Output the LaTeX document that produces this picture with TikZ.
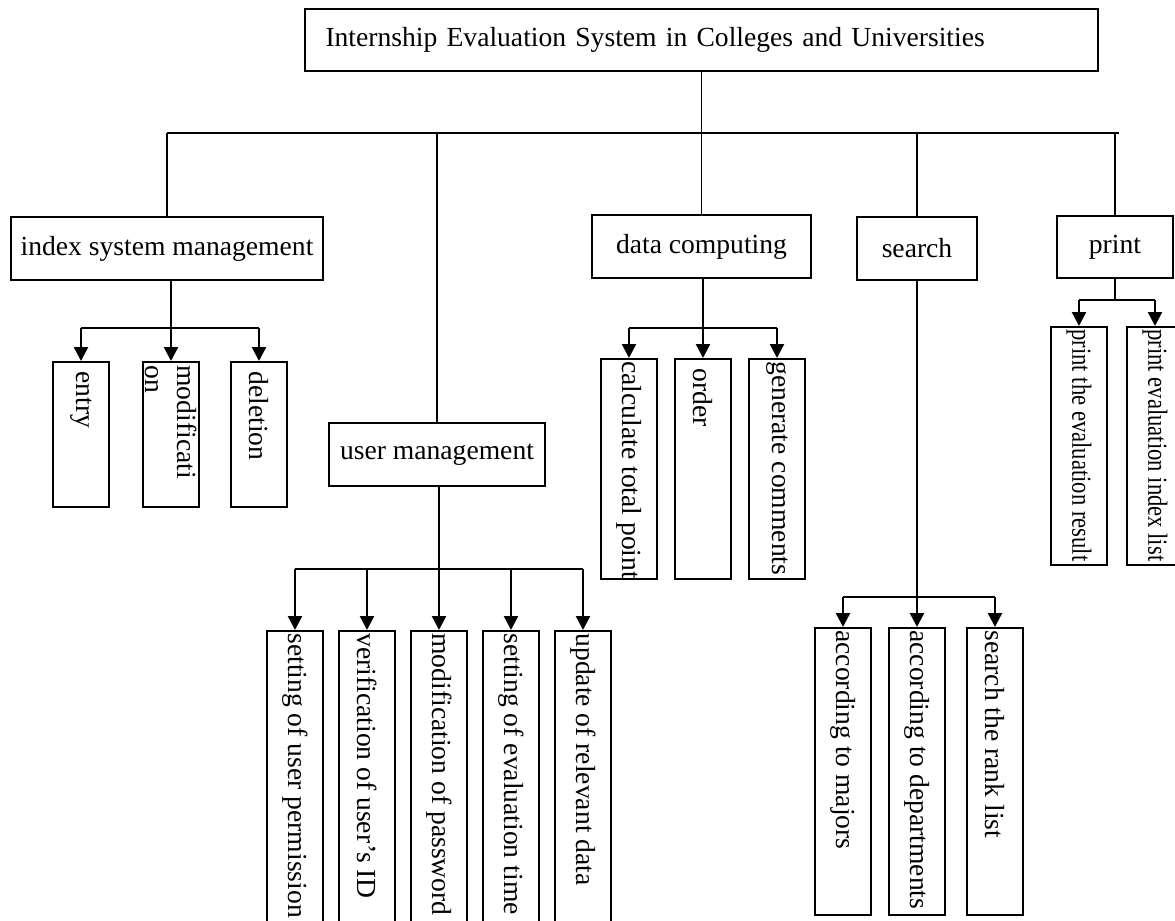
\documentclass[tikz,border=0pt]{standalone}
\usepackage{fontspec}
\setmainfont{Liberation Serif}
\usetikzlibrary{arrows.meta}

\begin{document}
\begin{tikzpicture}[x=0.5pt, y=-0.5pt]
  \tikzset{
    box/.style={
      rectangle,
      draw=black,
      line width=1pt,
      inner sep=2pt,
      font=\fontsize{13.8}{16}\selectfont
    },
    leaf/.style={
      rectangle,
      draw=black,
      line width=1pt,
      minimum width=28pt
    },
    leaftext/.style={
      rotate=-90,
      anchor=west,
      inner xsep=5pt,
      inner ysep=0pt,
      align=left,
      font=\fontsize{13.8}{16}\selectfont
    },
    tight/.style={inner xsep=1.5pt},
    busline/.style={line width=0.7pt},
    arrowline/.style={line width=1.2pt},
    down/.style={line width=1.2pt, -{Triangle[width=7pt, length=7pt]}}
  }

  \useasboundingbox (0,0) rectangle (1175,921);
  \clip (0,0) rectangle (1175,921);

  % top
  \node[box, minimum width=396.5pt, minimum height=31pt, text width=376pt, align=left]
    (root) at (701.5,40) {Internship Evaluation System in Colleges and Universities};

  % second level
  \node[box, minimum width=156pt, minimum height=31.5pt] (idx) at (167,248.5) {index system management};
  \node[box, minimum width=108pt, minimum height=31.5pt] (user) at (437,454.5) {user management};
  \node[box, minimum width=109.5pt, minimum height=31.5pt] (data) at (701.5,246.5) {data computing};
  \node[box, minimum width=60pt, minimum height=31.5pt] (search) at (917,248.5) {search};
  \node[box, minimum width=58pt, minimum height=31pt] (print) at (1115,247) {print};

  \coordinate (busL) at (167,133);
  \coordinate (busR) at (1119,133);
  \draw[busline] (busL) -- (busR);
  \draw[busline] (root.south) -- (root.south |- busL);
  \draw[busline] (idx.north) -- (idx.north |- busL);
  \draw[busline] (user.north) -- (user.north |- busL);
  \draw[busline] (data.north) -- (data.north |- busL);
  \draw[busline] (search.north) -- (search.north |- busL);
  \draw[busline] (print.north) -- (print.north |- busL);

  % index system management
  \node[leaf, minimum height=72.5pt] (entry) at (81,434.5) {};
  \node[leaf, minimum height=72.5pt] (modify) at (171,434.5) {};
  \node[leaf, minimum height=72.5pt] (delete) at (259,434.5) {};
  \node[leaftext] (entry-t) at (entry.north) {entry};
  \node[leaftext, xshift=-3pt] (modify-t) at (modify.north) {modificati\\on};
  \node[leaftext] (delete-t) at (delete.north) {deletion};
  \coordinate (idxfork) at (171,328);
  \draw[arrowline] (entry.north |- idxfork) -- (delete.north |- idxfork);
  \draw[down] (modify.north |- idx.south) -- (modify.north);
  \draw[down] (entry.north |- idxfork) -- (entry.north);
  \draw[down] (delete.north |- idxfork) -- (delete.north);

  % data computing
  \node[leaf, minimum height=110pt] (total) at (629,469) {};
  \node[leaf, minimum height=110pt] (order) at (703,469) {};
  \node[leaf, minimum height=110pt] (comment) at (777,469) {};
  \node[leaftext, tight] (total-t) at (total.north) {calculate total point};
  \node[leaftext] (order-t) at (order.north) {order};
  \node[leaftext, tight] (comment-t) at (comment.north) {generate comments};
  \coordinate (datafork) at (703,328);
  \draw[arrowline] (total.north |- datafork) -- (comment.north |- datafork);
  \draw[down] (order.north |- data.south) -- (order.north);
  \draw[down] (total.north |- datafork) -- (total.north);
  \draw[down] (comment.north |- datafork) -- (comment.north);

  % user management
  \node[leaf, minimum height=165pt] (perm) at (295,796) {};
  \node[leaf, minimum height=165pt] (ident) at (367,796) {};
  \node[leaf, minimum height=165pt] (passwd) at (439,796) {};
  \node[leaf, minimum height=165pt] (evtime) at (511,796) {};
  \node[leaf, minimum height=165pt] (update) at (583,796) {};
  \node[leaftext, tight] (perm-t) at (perm.north) {setting of user permission};
  \node[leaftext, tight] (ident-t) at (ident.north) {verification of user’s ID};
  \node[leaftext, tight] (passwd-t) at (passwd.north) {modification of password};
  \node[leaftext, tight] (evtime-t) at (evtime.north) {setting of evaluation time};
  \node[leaftext, tight] (update-t) at (update.north) {update of relevant data};
  \coordinate (userfork) at (439,569);
  \draw[arrowline] (perm.north |- userfork) -- (update.north |- userfork);
  \draw[down] (passwd.north |- user.south) -- (passwd.north);
  \draw[down] (perm.north |- userfork) -- (perm.north);
  \draw[down] (ident.north |- userfork) -- (ident.north);
  \draw[down] (evtime.north |- userfork) -- (evtime.north);
  \draw[down] (update.north |- userfork) -- (update.north);

  % search
  \node[leaf, minimum height=143.5pt] (major) at (843,771.5) {};
  \node[leaf, minimum height=143.5pt] (dept) at (917,771.5) {};
  \node[leaf, minimum height=143.5pt] (rank) at (995,771.5) {};
  \node[leaftext, tight] (major-t) at (major.north) {according to majors};
  \node[leaftext, tight] (dept-t) at (dept.north) {according to departments};
  \node[leaftext, tight] (rank-t) at (rank.north) {search the rank list};
  \coordinate (searchfork) at (917,597);
  \draw[arrowline] (major.north |- searchfork) -- (rank.north |- searchfork);
  \draw[down] (dept.north |- search.south) -- (dept.north);
  \draw[down] (major.north |- searchfork) -- (major.north);
  \draw[down] (rank.north |- searchfork) -- (rank.north);

  % print
  \node[leaf, minimum height=119pt] (result) at (1079,446) {};
  \node[leaf, minimum height=119pt] (list) at (1155,446) {};
  \node[leaftext, tight] (result-t) at (result.north) {\scalebox{0.82}[1]{print the evaluation result}};
  \node[leaftext, tight] (list-t) at (list.north) {\scalebox{0.82}[1]{print evaluation index list}};
  \coordinate (printfork) at (1117,300);
  \draw[busline] (print.south) -- (print.south |- printfork);
  \draw[arrowline] (result.north |- printfork) -- (list.north |- printfork);
  \draw[down] (result.north |- printfork) -- (result.north);
  \draw[down] (list.north |- printfork) -- (list.north);
\end{tikzpicture}
\end{document}
